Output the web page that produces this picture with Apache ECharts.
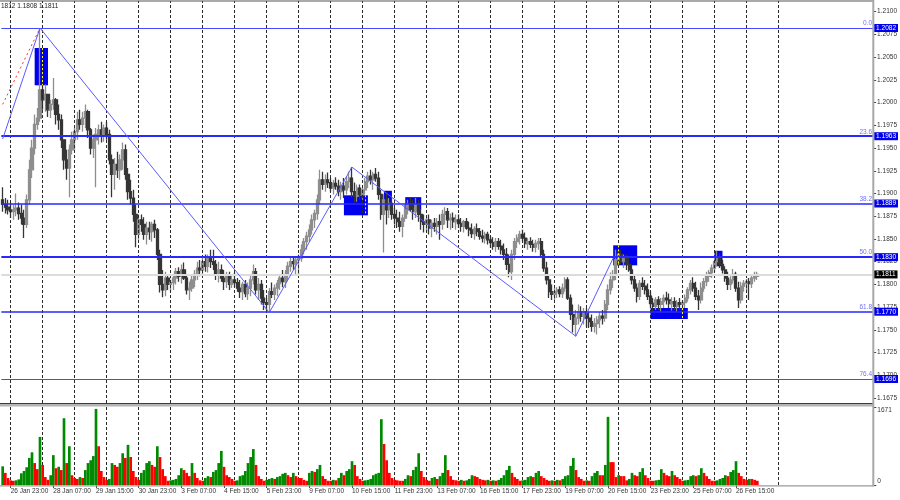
<!DOCTYPE html>
<html><head><meta charset="utf-8">
<script src="https://cdn.jsdelivr.net/npm/echarts@6/dist/echarts.min.js"></script>
<style>html,body{margin:0;padding:0;background:#fff}#c{width:900px;height:500px}</style>
</head><body><div id="c"></div>
<script>
// ---- data (EURUSD, 2-hour bars) ----
const tickLabels = ['26 Jan 23:00','28 Jan 07:00','29 Jan 15:00','30 Jan 23:00','3 Feb 07:00','4 Feb 15:00','5 Feb 23:00','9 Feb 07:00','10 Feb 15:00','11 Feb 23:00','13 Feb 07:00','16 Feb 15:00','17 Feb 23:00','19 Feb 07:00','20 Feb 15:00','23 Feb 23:00','25 Feb 07:00','26 Feb 15:00'];
const tickLabelIdx = [3,19,35,51,67,83,99,115,131,147,163,179,195,211,227,243,259,275];
const daySeparators = [3,15,27,39,51,63,75,87,99,111,123,135,147,159,171,183,195,207,219,231,243,255,267,279,291];
const priceTicks = [1.1675,1.1700,1.1725,1.1750,1.1775,1.1800,1.1825,1.1850,1.1875,1.1900,1.1925,1.1950,1.1975,1.2000,1.2025,1.2050,1.2075,1.2100];
const fibLevels = [0.0, 23.6, 38.2, 50.0, 61.8, 76.4];
const fibPrices = [1.2082, 1.1963, 1.1889, 1.1830, 1.1770, 1.1696];
const lastPrice = 1.1811;
const headerText = '1812 1.1808 1.1811';
const volumeMax = 1671;
const zigzag = [[0,1.1960],[14,1.2082],[100,1.1769],[131,1.1929],[215,1.1743],[229,1.1829]];
const redDotted = [[0,1.1998],[14,1.2082]];
const zones = [[12,17,1.2060,1.2019],[128,137,1.1898,1.1876],[143,146,1.1903,1.1882],[151,157,1.1896,1.1882],[229,238,1.1843,1.1821],[267,270,1.1837,1.1820],[243,257,1.1774,1.1762]];
const zoneMarkers = [[15,1.2060,1.2019],[136,1.1898,1.1876],[231,1.1843,1.1821],[255,1.1774,1.1762]];
// [open, close, low, high]
const ohlc = [
[1.1893,1.1888,1.1880,1.1907],[1.1888,1.1885,1.1878,1.1895],[1.1885,1.1882,1.1877,1.1893],
[1.1882,1.1880,1.1873,1.1890],[1.1880,1.1882,1.1871,1.1888],[1.1882,1.1884,1.1875,1.1900],[1.1884,1.1878,1.1871,1.1890],
[1.1878,1.1873,1.1866,1.1888],[1.1873,1.1866,1.1851,1.1882],[1.1866,1.1893,1.1862,1.1899],[1.1893,1.1926,1.1888,1.1937],
[1.1926,1.1950,1.1917,1.1959],[1.1950,1.1976,1.1943,1.1987],[1.1976,1.1983,1.1970,1.1994],[1.1983,1.2014,1.1979,1.2082],
[1.2014,1.2003,1.1992,1.2031],[1.2003,1.2009,1.1990,1.2020],[1.2009,1.1992,1.1984,1.2009],[1.1992,1.1998,1.1983,1.2003],
[1.1998,1.2003,1.1992,1.2027],[1.2003,1.1987,1.1976,1.2005],[1.1987,1.1981,1.1970,1.1998],[1.1981,1.1959,1.1950,1.1987],
[1.1959,1.1937,1.1926,1.1959],[1.1937,1.1928,1.1915,1.1948],[1.1928,1.1948,1.1896,1.1954],[1.1948,1.1959,1.1943,1.1968],
[1.1959,1.1968,1.1948,1.1972],[1.1968,1.1981,1.1959,1.1990],[1.1981,1.1976,1.1970,1.1992],[1.1976,1.1983,1.1968,1.1990],
[1.1983,1.1990,1.1972,1.1998],[1.1990,1.1970,1.1961,1.1992],[1.1970,1.1950,1.1943,1.1972],[1.1950,1.1959,1.1939,1.1965],
[1.1959,1.1965,1.1907,1.1972],[1.1965,1.1970,1.1954,1.1976],[1.1970,1.1965,1.1956,1.1979],[1.1965,1.1972,1.1957,1.1976],
[1.1972,1.1965,1.1959,1.1979],[1.1965,1.1937,1.1932,1.1970],[1.1937,1.1921,1.1896,1.1943],[1.1921,1.1932,1.1904,1.1939],
[1.1932,1.1926,1.1917,1.1946],[1.1926,1.1937,1.1915,1.1943],[1.1937,1.1948,1.1926,1.1956],[1.1948,1.1921,1.1915,1.1954],
[1.1921,1.1902,1.1893,1.1928],[1.1902,1.1895,1.1888,1.1915],[1.1895,1.1877,1.1869,1.1904],[1.1877,1.1855,1.1841,1.1888],
[1.1855,1.1871,1.1849,1.1877],[1.1871,1.1866,1.1858,1.1877],[1.1866,1.1855,1.1849,1.1874],[1.1855,1.1862,1.1844,1.1869],
[1.1862,1.1858,1.1849,1.1869],[1.1858,1.1866,1.1847,1.1869],[1.1866,1.1860,1.1851,1.1871],[1.1860,1.1833,1.1827,1.1862],
[1.1833,1.1800,1.1791,1.1838],[1.1800,1.1794,1.1786,1.1816],[1.1794,1.1807,1.1787,1.1814],[1.1807,1.1800,1.1794,1.1811],
[1.1800,1.1802,1.1792,1.1805],[1.1802,1.1807,1.1794,1.1811],[1.1807,1.1814,1.1800,1.1818],[1.1814,1.1809,1.1803,1.1819],
[1.1809,1.1816,1.1801,1.1822],[1.1816,1.1807,1.1805,1.1824],[1.1807,1.1794,1.1789,1.1811],[1.1794,1.1796,1.1783,1.1803],
[1.1796,1.1805,1.1792,1.1811],[1.1805,1.1811,1.1797,1.1816],[1.1811,1.1818,1.1805,1.1825],[1.1818,1.1816,1.1809,1.1827],
[1.1816,1.1825,1.1811,1.1829],[1.1825,1.1820,1.1814,1.1833],[1.1820,1.1829,1.1813,1.1833],[1.1829,1.1825,1.1818,1.1838],
[1.1825,1.1822,1.1816,1.1838],[1.1822,1.1811,1.1805,1.1827],[1.1811,1.1816,1.1802,1.1825],[1.1816,1.1807,1.1803,1.1822],
[1.1807,1.1803,1.1794,1.1816],[1.1803,1.1809,1.1796,1.1814],[1.1809,1.1800,1.1794,1.1814],[1.1800,1.1805,1.1796,1.1811],
[1.1805,1.1802,1.1797,1.1813],[1.1802,1.1796,1.1792,1.1807],[1.1796,1.1792,1.1785,1.1805],[1.1792,1.1800,1.1783,1.1803],
[1.1800,1.1790,1.1786,1.1805],[1.1790,1.1796,1.1783,1.1802],[1.1796,1.1805,1.1787,1.1811],[1.1805,1.1814,1.1800,1.1822],
[1.1814,1.1794,1.1789,1.1818],[1.1794,1.1800,1.1783,1.1807],[1.1800,1.1785,1.1778,1.1805],[1.1785,1.1780,1.1772,1.1794],
[1.1780,1.1778,1.1772,1.1785],[1.1778,1.1792,1.1769,1.1796],[1.1792,1.1789,1.1785,1.1802],[1.1789,1.1796,1.1783,1.1800],
[1.1796,1.1801,1.1787,1.1805],[1.1801,1.1807,1.1794,1.1811],[1.1807,1.1803,1.1797,1.1816],[1.1803,1.1811,1.1796,1.1816],
[1.1811,1.1820,1.1805,1.1825],[1.1820,1.1825,1.1814,1.1829],[1.1825,1.1823,1.1816,1.1830],[1.1823,1.1827,1.1811,1.1831],
[1.1827,1.1829,1.1811,1.1833],[1.1829,1.1838,1.1825,1.1844],[1.1838,1.1847,1.1833,1.1851],[1.1847,1.1853,1.1838,1.1858],
[1.1853,1.1860,1.1847,1.1866],[1.1860,1.1871,1.1855,1.1877],[1.1871,1.1878,1.1862,1.1882],[1.1878,1.1893,1.1871,1.1899],
[1.1893,1.1915,1.1888,1.1926],[1.1915,1.1910,1.1904,1.1924],[1.1910,1.1915,1.1902,1.1921],[1.1915,1.1912,1.1906,1.1923],
[1.1912,1.1906,1.1902,1.1917],[1.1906,1.1911,1.1899,1.1915],[1.1911,1.1908,1.1904,1.1918],[1.1908,1.1902,1.1897,1.1915],
[1.1902,1.1908,1.1893,1.1913],[1.1908,1.1904,1.1895,1.1917],[1.1904,1.1913,1.1899,1.1919],[1.1913,1.1917,1.1906,1.1924],
[1.1917,1.1902,1.1895,1.1929],[1.1902,1.1897,1.1890,1.1912],[1.1897,1.1906,1.1891,1.1910],[1.1906,1.1899,1.1893,1.1910],
[1.1899,1.1904,1.1893,1.1906],[1.1904,1.1913,1.1899,1.1917],[1.1913,1.1919,1.1906,1.1924],[1.1919,1.1915,1.1910,1.1926],
[1.1915,1.1921,1.1904,1.1924],[1.1921,1.1917,1.1913,1.1928],[1.1917,1.1899,1.1893,1.1924],[1.1899,1.1877,1.1871,1.1904],
[1.1877,1.1893,1.1835,1.1899],[1.1893,1.1882,1.1866,1.1901],[1.1882,1.1889,1.1873,1.1895],[1.1889,1.1877,1.1871,1.1895],
[1.1877,1.1873,1.1866,1.1884],[1.1873,1.1869,1.1862,1.1882],[1.1869,1.1864,1.1858,1.1880],[1.1864,1.1873,1.1852,1.1877],
[1.1873,1.1882,1.1869,1.1888],[1.1882,1.1888,1.1877,1.1893],[1.1888,1.1884,1.1880,1.1895],[1.1884,1.1880,1.1871,1.1893],
[1.1880,1.1888,1.1873,1.1895],[1.1888,1.1877,1.1869,1.1893],[1.1877,1.1869,1.1860,1.1882],[1.1869,1.1866,1.1857,1.1877],
[1.1866,1.1871,1.1858,1.1874],[1.1871,1.1862,1.1855,1.1877],[1.1862,1.1867,1.1852,1.1871],[1.1867,1.1864,1.1858,1.1873],
[1.1864,1.1869,1.1855,1.1873],[1.1869,1.1866,1.1849,1.1877],[1.1866,1.1877,1.1860,1.1882],[1.1877,1.1880,1.1866,1.1885],
[1.1880,1.1871,1.1862,1.1884],[1.1871,1.1873,1.1860,1.1878],[1.1873,1.1869,1.1862,1.1879],[1.1869,1.1871,1.1860,1.1877],
[1.1871,1.1867,1.1862,1.1877],[1.1867,1.1864,1.1858,1.1873],[1.1864,1.1869,1.1857,1.1871],[1.1869,1.1862,1.1860,1.1873],
[1.1862,1.1860,1.1853,1.1869],[1.1860,1.1856,1.1851,1.1867],[1.1856,1.1861,1.1849,1.1864],[1.1861,1.1858,1.1853,1.1867],
[1.1858,1.1853,1.1849,1.1862],[1.1853,1.1851,1.1846,1.1860],[1.1851,1.1855,1.1845,1.1858],[1.1855,1.1849,1.1844,1.1858],
[1.1849,1.1846,1.1840,1.1853],[1.1846,1.1842,1.1838,1.1852],[1.1842,1.1847,1.1836,1.1851],[1.1847,1.1842,1.1838,1.1851],
[1.1842,1.1838,1.1833,1.1849],[1.1838,1.1833,1.1827,1.1845],[1.1833,1.1822,1.1816,1.1840],[1.1822,1.1814,1.1808,1.1833],
[1.1814,1.1833,1.1805,1.1838],[1.1833,1.1847,1.1827,1.1851],[1.1847,1.1851,1.1840,1.1855],[1.1851,1.1855,1.1844,1.1859],
[1.1855,1.1851,1.1847,1.1860],[1.1851,1.1845,1.1840,1.1857],[1.1845,1.1847,1.1838,1.1851],[1.1847,1.1844,1.1840,1.1852],
[1.1844,1.1841,1.1836,1.1849],[1.1841,1.1845,1.1835,1.1849],[1.1845,1.1847,1.1838,1.1851],[1.1847,1.1833,1.1829,1.1851],
[1.1833,1.1818,1.1814,1.1838],[1.1818,1.1805,1.1800,1.1825],[1.1805,1.1792,1.1785,1.1811],[1.1792,1.1789,1.1783,1.1800],
[1.1789,1.1792,1.1783,1.1796],[1.1792,1.1794,1.1785,1.1797],[1.1794,1.1790,1.1786,1.1798],[1.1790,1.1796,1.1785,1.1801],
[1.1796,1.1805,1.1792,1.1808],[1.1805,1.1785,1.1783,1.1808],[1.1785,1.1767,1.1761,1.1789],[1.1767,1.1756,1.1747,1.1778],
[1.1756,1.1763,1.1743,1.1772],[1.1763,1.1770,1.1756,1.1778],[1.1770,1.1765,1.1759,1.1776],[1.1765,1.1770,1.1756,1.1774],
[1.1770,1.1763,1.1753,1.1774],[1.1763,1.1759,1.1752,1.1770],[1.1759,1.1754,1.1748,1.1767],[1.1754,1.1757,1.1747,1.1763],
[1.1757,1.1761,1.1745,1.1765],[1.1761,1.1765,1.1752,1.1770],[1.1765,1.1763,1.1756,1.1772],[1.1763,1.1778,1.1759,1.1783],
[1.1778,1.1794,1.1772,1.1800],[1.1794,1.1805,1.1789,1.1813],[1.1805,1.1811,1.1796,1.1816],[1.1811,1.1827,1.1805,1.1838],
[1.1827,1.1833,1.1820,1.1838],[1.1833,1.1825,1.1822,1.1838],[1.1825,1.1829,1.1818,1.1833],[1.1829,1.1822,1.1816,1.1833],
[1.1822,1.1816,1.1814,1.1829],[1.1816,1.1805,1.1800,1.1822],[1.1805,1.1796,1.1792,1.1811],[1.1796,1.1787,1.1780,1.1801],
[1.1787,1.1801,1.1783,1.1805],[1.1801,1.1798,1.1794,1.1808],[1.1798,1.1794,1.1789,1.1805],[1.1794,1.1787,1.1783,1.1801],
[1.1787,1.1779,1.1774,1.1792],[1.1779,1.1776,1.1769,1.1785],[1.1776,1.1783,1.1772,1.1786],[1.1783,1.1778,1.1772,1.1787],
[1.1778,1.1781,1.1770,1.1785],[1.1781,1.1785,1.1774,1.1789],[1.1785,1.1783,1.1778,1.1792],[1.1783,1.1779,1.1774,1.1790],
[1.1779,1.1781,1.1771,1.1786],[1.1781,1.1776,1.1772,1.1786],[1.1776,1.1780,1.1770,1.1783],[1.1780,1.1778,1.1772,1.1785],
[1.1778,1.1780,1.1770,1.1783],[1.1780,1.1785,1.1774,1.1789],[1.1785,1.1794,1.1781,1.1797],[1.1794,1.1801,1.1789,1.1805],
[1.1801,1.1796,1.1792,1.1808],[1.1796,1.1787,1.1783,1.1803],[1.1787,1.1783,1.1772,1.1794],[1.1783,1.1796,1.1779,1.1802],
[1.1796,1.1803,1.1792,1.1807],[1.1803,1.1809,1.1798,1.1814],[1.1809,1.1813,1.1803,1.1816],[1.1813,1.1818,1.1807,1.1822],
[1.1818,1.1825,1.1814,1.1827],[1.1825,1.1829,1.1820,1.1837],[1.1829,1.1822,1.1818,1.1834],[1.1822,1.1816,1.1812,1.1827],
[1.1816,1.1807,1.1803,1.1820],[1.1807,1.1800,1.1794,1.1814],[1.1800,1.1805,1.1794,1.1809],[1.1805,1.1811,1.1801,1.1817],
[1.1811,1.1796,1.1792,1.1814],[1.1796,1.1783,1.1774,1.1803],[1.1783,1.1798,1.1779,1.1803],[1.1798,1.1801,1.1792,1.1805],
[1.1801,1.1803,1.1794,1.1806],[1.1803,1.1801,1.1783,1.1807],[1.1801,1.1807,1.1796,1.1811],[1.1807,1.1809,1.1803,1.1814],
[1.1809,1.1811,1.1805,1.1814]
];
const volume = [
400,260,150,100,90,100,120,250,300,380,580,700,470,340,1030,430,170,110,210,640,360,390,320,1430,470,830,210,
150,130,170,150,320,470,530,620,1630,830,300,170,110,130,470,430,390,470,680,580,860,600,300,170,
110,260,320,470,510,430,390,830,600,340,190,90,100,110,130,210,360,320,260,190,470,260,150,100,
90,150,190,170,280,320,470,730,390,210,170,130,90,100,190,210,300,470,600,770,430,190,130,90,
110,130,150,130,170,190,240,260,210,170,260,190,150,150,110,90,260,300,280,340,430,190,130,90,
90,110,100,150,260,210,300,340,510,430,190,130,90,100,110,130,210,240,260,1410,880,530,260,150,
110,100,90,90,130,210,190,320,390,680,300,170,110,90,150,170,130,190,260,640,320,190,110,100,
90,110,90,100,130,210,190,170,130,110,100,110,90,100,90,110,150,210,320,410,260,170,130,90,
100,110,170,190,170,260,300,190,150,110,90,100,90,110,100,130,190,210,410,580,320,170,130,90,
100,90,190,260,300,210,210,430,1460,490,490,170,210,190,190,100,130,260,210,190,280,360,210,150,
90,90,100,110,340,260,210,190,300,210,170,130,90,100,110,190,210,190,210,360,260,190,130,90,
90,100,130,150,210,190,280,320,510,260,190,130,110,130,130,110,90
];

// ---- chart ----
const N_CATS = 327;
const categories = Array.from({length: N_CATS}, (_, i) => String(i));
const FONT = 'Liberation Sans';
const labelSet = new Set(tickLabelIdx);
const upColor = '#8e8e8e', downColor = '#353535';
const fibWidths = [1, 2, 1.5, 2, 1.5, 1];

const chart = echarts.init(document.getElementById('c'), null, {renderer: 'canvas'});

const bgMarkLine = [];
daySeparators.forEach(ix => bgMarkLine.push({xAxis: ix, lineStyle: {color: '#2a2a2a', width: 1, type: [3, 2]}, label: {show: false}}));
bgMarkLine.push({yAxis: lastPrice, lineStyle: {color: '#dcdcdc', width: 2, type: 'solid'},
  label: {show: true, position: 'end', distance: 1, formatter: lastPrice.toFixed(4), backgroundColor: '#000', color: '#fff', padding: [1, 2, 0, 2], fontSize: 6.5, fontFamily: FONT}});

const fgMarkLine = [];
fibPrices.forEach((p, k) => {
  fgMarkLine.push({yAxis: p, lineStyle: {color: (k === 0 || k === 5) ? '#4848ff' : '#2828ff', width: fibWidths[k], type: 'solid'},
    label: {show: true, position: 'insideEndTop', distance: [1, 1], formatter: fibLevels[k].toFixed(1), color: '#7070ff', fontSize: 6.5, fontFamily: FONT}});
  fgMarkLine.push({yAxis: p, lineStyle: {width: 1, color: 'rgba(0,0,0,0)'},
    label: {show: true, position: 'end', distance: 1, formatter: p.toFixed(4), backgroundColor: '#0000ee', color: '#fff', padding: [1, 2, 0, 2], fontSize: 6.5, fontFamily: FONT}});
});
for (let k = 0; k < zigzag.length - 1; k++) {
  fgMarkLine.push([{coord: zigzag[k], lineStyle: {color: '#5a5aff', width: 1, type: 'solid'}, label: {show: false}}, {coord: zigzag[k + 1]}]);
}
fgMarkLine.push([{coord: redDotted[0], lineStyle: {color: '#ff3030', width: 1, type: [2, 3]}, label: {show: false}}, {coord: redDotted[1]}]);
zoneMarkers.forEach(m => fgMarkLine.push([{coord: [m[0], m[1]], lineStyle: {color: '#ffff00', width: 1, type: [2, 2]}, label: {show: false}}, {coord: [m[0], m[2]]}]));

const option = {
  animation: false,
  backgroundColor: '#ffffff',
  grid: [
    {left: 1.333, right: 26.667, top: 1, height: 402},
    {left: 1.333, right: 26.667, top: 407, height: 78}
  ],
  xAxis: [
    {gridIndex: 0, type: 'category', data: categories, boundaryGap: true, show: false},
    {gridIndex: 1, type: 'category', data: categories, boundaryGap: true,
      axisLine: {show: false},
      axisTick: {show: true, alignWithLabel: true, length: 3, interval: (i) => labelSet.has(i), lineStyle: {color: '#444'}},
      axisLabel: {show: true, interval: (i) => labelSet.has(i), align: 'left', margin: 3, fontSize: 6.5, fontFamily: FONT, color: '#333',
        formatter: (v, i) => { const k = tickLabelIdx.indexOf(i); return k >= 0 ? tickLabels[k] : ''; }},
      splitLine: {show: false}}
  ],
  yAxis: [
    {gridIndex: 0, type: 'value', position: 'right', min: 1.16696, max: 1.21117, scale: true,
      axisLine: {show: false}, splitLine: {show: false},
      axisTick: {show: true, length: 3, lineStyle: {color: '#444'}, customValues: priceTicks},
      axisLabel: {show: true, customValues: priceTicks, margin: 4, fontSize: 6.5, fontFamily: FONT, color: '#333', formatter: v => v.toFixed(4)}},
    {gridIndex: 1, type: 'value', position: 'right', min: 0, max: volumeMax, interval: volumeMax,
      axisLine: {show: false}, splitLine: {show: false},
      axisTick: {show: true, length: 3, lineStyle: {color: '#444'}},
      axisLabel: {show: true, margin: 4, fontSize: 6.5, fontFamily: FONT, color: '#333', formatter: v => String(Math.round(v)),
        verticalAlignMaxLabel: 'top', verticalAlignMinLabel: 'bottom'}}
  ],
  series: [
    {type: 'line', xAxisIndex: 0, yAxisIndex: 0, data: [], z: 1, silent: true,
      markLine: {symbol: ['none', 'none'], silent: true, precision: 4, data: bgMarkLine},
      markArea: {silent: true, itemStyle: {color: '#0000ee', opacity: 1},
        data: zones.map(z => [{coord: [z[0], z[2]]}, {coord: [z[1], z[3]]}])}},
    {type: 'candlestick', xAxisIndex: 0, yAxisIndex: 0, data: ohlc, z: 3, barWidth: 2.6,
      itemStyle: {color: upColor, color0: downColor, borderColor: upColor, borderColor0: downColor, borderWidth: 1.3}},
    {type: 'line', xAxisIndex: 0, yAxisIndex: 0, data: [], z: 5, silent: true,
      markLine: {symbol: ['none', 'none'], silent: true, precision: 4, data: fgMarkLine}},
    {type: 'bar', xAxisIndex: 1, yAxisIndex: 1, barWidth: '100%', barCategoryGap: '0%', z: 3,
      data: volume.map((v, i) => ({value: v, itemStyle: {color: (i > 0 && v <= volume[i - 1]) ? '#ff0000' : '#008a00'}})),
      markLine: {symbol: ['none', 'none'], silent: true, z: 1,
        data: daySeparators.map(ix => ({xAxis: ix, lineStyle: {color: '#2a2a2a', width: 1, type: [3, 2]}, label: {show: false}}))}}
  ],
  graphic: [
    {type: 'rect', shape: {x: 0, y: 0.5, width: 873.5, height: 1}, style: {fill: '#555'}, z: 10},
    {type: 'rect', shape: {x: 0, y: 403, width: 873.5, height: 1}, style: {fill: '#3c3c3c'}, z: 10},
    {type: 'rect', shape: {x: 0, y: 404, width: 873.5, height: 2.5}, style: {fill: '#b4b4b4'}, z: 10},
    {type: 'rect', shape: {x: 0, y: 485.2, width: 873.5, height: 1.2}, style: {fill: '#9a9a9a'}, z: 10},
    {type: 'rect', shape: {x: 872.3, y: 0, width: 2, height: 486.4}, style: {fill: '#a8a8a8'}, z: 10},
    {type: 'text', left: 1, top: 3, style: {text: headerText, fontSize: 6.5, fontFamily: FONT, fill: '#222'}, z: 10}
  ]
};
chart.setOption(option);
</script>
</body></html>
